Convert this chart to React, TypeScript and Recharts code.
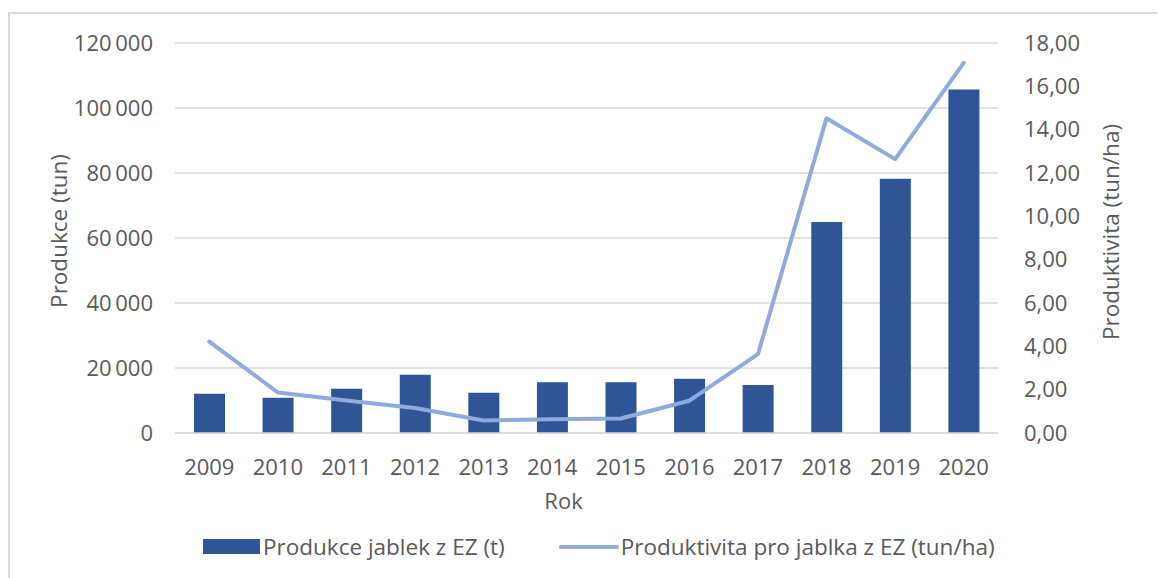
import { Bar, CartesianGrid, ComposedChart, Line, XAxis, YAxis } from 'recharts';

const years = ['2009', '2010', '2011', '2012', '2013', '2014', '2015', '2016', '2017', '2018', '2019', '2020'];
const production = [12070, 10850, 13600, 17900, 12380, 15600, 15600, 16680, 14740, 64900, 78200, 105700];
const productivity = [4.22, 1.87, 1.5, 1.15, 0.58, 0.63, 0.67, 1.49, 3.64, 14.53, 12.64, 17.08];
const leftTicks = [0, 20000, 40000, 60000, 80000, 100000, 120000];
const rightTicks = [0, 2, 4, 6, 8, 10, 12, 14, 16, 18];

const BAR_COLOR = '#2F5597';
const LINE_COLOR = '#8FAADC';
const TEXT_COLOR = '#595959';
const FONT = '"Open Sans", sans-serif';

const data = years.map((year, i) => ({
  year,
  production: production[i],
  productivity: productivity[i]
}));

const fmtThousands = (v: number) => String(v).replace(/\B(?=(\d{3})+(?!\d))/g, '\u2009');
const fmtDecimal = (v: number) => v.toFixed(2).replace('.', ',');

function App() {
  return (
    <div
      style={{
        position: 'relative',
        marginTop: 4,
        width: 1170,
        height: 580,
        borderTop: '2px solid #d9d9d9',
        borderLeft: '2px solid #d9d9d9',
        fontFamily: FONT
      }}
    >
      <ComposedChart
        width={1160}
        height={519}
        data={data}
        margin={{ top: 29, right: 0, bottom: 0, left: 0 }}
        barSize={31}
      >
        <CartesianGrid yAxisId="left" vertical={false} stroke="#d9d9d9" strokeWidth={1.5} />
        <XAxis
          dataKey="year"
          height={100}
          axisLine={{ stroke: '#d9d9d9', strokeWidth: 1.5 }}
          tickLine={false}
          tickSize={0}
          tickMargin={0}
          tick={({ x, y, payload }: any) => (
            <text x={x} y={y + 33} textAnchor="middle" dominantBaseline="central" fill={TEXT_COLOR} fontSize={22} fontFamily={FONT}>
              {payload.value}
            </text>
          )}
          label={({ viewBox }: any) => (
            <text
              x={viewBox.x + viewBox.width / 2 - 23}
              y={viewBox.y + 67}
              textAnchor="middle"
              dominantBaseline="central"
              fill={TEXT_COLOR}
              fontSize={22}
              fontFamily={FONT}
            >
              Rok
            </text>
          )}
        />
        <YAxis
          yAxisId="left"
          width={165}
          domain={[0, 120000]}
          ticks={leftTicks}
          axisLine={false}
          tickLine={false}
          tickSize={0}
          tickMargin={22}
          tickFormatter={fmtThousands}
          tick={{ fill: TEXT_COLOR, fontSize: 22, fontFamily: FONT }}
          label={({ viewBox }: any) => (
            <text
              x={48}
              y={viewBox.y + viewBox.height / 2 - 7}
              transform={`rotate(-90, 48, ${viewBox.y + viewBox.height / 2 - 7})`}
              textAnchor="middle"
              dominantBaseline="central"
              fill={TEXT_COLOR}
              fontSize={22.5}
              fontFamily={FONT}
            >
              Produkce (tun)
            </text>
          )}
        />
        <YAxis
          yAxisId="right"
          orientation="right"
          width={172}
          domain={[0, 18]}
          ticks={rightTicks}
          axisLine={false}
          tickLine={false}
          tickSize={0}
          tickMargin={26}
          tickFormatter={fmtDecimal}
          tick={{ fill: TEXT_COLOR, fontSize: 22, fontFamily: FONT }}
          label={({ viewBox }: any) => (
            <text
              x={1100}
              y={viewBox.y + viewBox.height / 2 - 6}
              transform={`rotate(-90, 1100, ${viewBox.y + viewBox.height / 2 - 6})`}
              textAnchor="middle"
              dominantBaseline="central"
              fill={TEXT_COLOR}
              fontSize={22.5}
              fontFamily={FONT}
            >
              Produktivita (tun/ha)
            </text>
          )}
        />
        <Bar yAxisId="left" dataKey="production" fill={BAR_COLOR} isAnimationActive={false} />
        <Line
          yAxisId="right"
          dataKey="productivity"
          type="linear"
          stroke={LINE_COLOR}
          strokeWidth={4}
          strokeLinejoin="round"
          strokeLinecap="round"
          dot={false}
          activeDot={false}
          isAnimationActive={false}
        />
      </ComposedChart>
      <div
        style={{
          position: 'absolute',
          top: 517,
          left: 0,
          display: 'flex',
          alignItems: 'center',
          fontSize: 22.5,
          color: TEXT_COLOR,
          whiteSpace: 'nowrap'
        }}
      >
        <span style={{ marginLeft: 193, width: 57, height: 15, background: BAR_COLOR, display: 'inline-block' }} />
        <span style={{ marginLeft: 3 }}>Produkce jablek z EZ (t)</span>
        <span style={{ marginLeft: 54, width: 60, height: 4, background: LINE_COLOR, borderRadius: 2, display: 'inline-block' }} />
        <span style={{ marginLeft: 2 }}>Produktivita pro jablka z EZ (tun/ha)</span>
      </div>
    </div>
  );
}

export default App;
